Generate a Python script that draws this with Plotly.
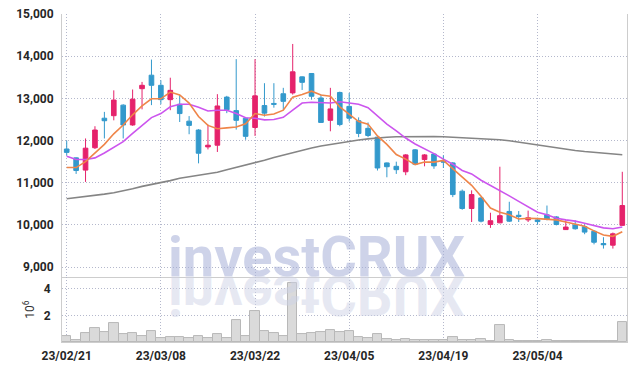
import plotly.graph_objects as go

dates = ["23/02/21", "23/02/22", "23/02/23", "23/02/24", "23/02/27", "23/02/28", "23/03/02", "23/03/03", "23/03/06", "23/03/07",
         "23/03/08", "23/03/09", "23/03/10", "23/03/13", "23/03/14", "23/03/15", "23/03/16", "23/03/17", "23/03/20", "23/03/21",
         "23/03/22", "23/03/23", "23/03/24", "23/03/27", "23/03/28", "23/03/29", "23/03/30", "23/03/31", "23/04/03", "23/04/04",
         "23/04/05", "23/04/06", "23/04/07", "23/04/10", "23/04/11", "23/04/12", "23/04/13", "23/04/14", "23/04/17", "23/04/18",
         "23/04/19", "23/04/20", "23/04/21", "23/04/24", "23/04/25", "23/04/26", "23/04/27", "23/04/28", "23/05/02", "23/05/03",
         "23/05/04", "23/05/08", "23/05/09", "23/05/10", "23/05/11", "23/05/12", "23/05/15", "23/05/16", "23/05/17", "23/05/18"]

opens = [11800, 11590, 11300, 11830, 12530, 12590, 12840, 12370, 13230, 13550,
         13310, 12970, 12860, 12460, 12250, 11850, 11890, 13030, 12710, 12530,
         12310, 12830, 12880, 13110, 13130, 13510, 13590, 13010, 12480, 13140,
         12810, 12470, 12290, 12080, 11470, 11390, 11260, 11780, 11550, 11680,
         11510, 11470, 10800, 10390, 10640, 10010, 10050, 10320, 10230, 10120,
         10120, 10240, 10190, 9890, 10000, 9960, 9850, 9560, 9520, 9990]
highs = [12000, 11600, 12050, 12340, 12680, 13190, 12860, 13210, 13390, 13920,
         13430, 13490, 13080, 12580, 12270, 12380, 13100, 13060, 13930, 12550,
         13930, 13360, 13360, 13250, 14290, 13520, 13600, 13090, 13250, 13160,
         13130, 12550, 12430, 12090, 11480, 11500, 11680, 11800, 11680, 11690,
         11650, 11490, 10840, 10820, 10660, 10290, 11380, 10550, 10330, 10340,
         10170, 10460, 10210, 10110, 10110, 10010, 9880, 9710, 9820, 11260]
lows = [11650, 11210, 11020, 11800, 12050, 12480, 12050, 12350, 12740, 12840,
        12860, 12720, 12440, 12150, 11460, 11790, 11730, 12650, 12260, 12020,
        12110, 12570, 12780, 12730, 13090, 13200, 12970, 12420, 12220, 12340,
        12450, 12080, 12080, 11290, 11130, 11210, 11180, 11430, 11390, 11330,
        11350, 10660, 10360, 10070, 10060, 9930, 10040, 10070, 10070, 10070,
        10010, 10110, 9990, 9880, 9890, 9780, 9540, 9440, 9440, 9980]
closes = [11720, 11290, 11820, 12250, 12470, 12960, 12370, 12980, 13310, 13310,
          12970, 13190, 12640, 12360, 11700, 11890, 12820, 12730, 12480, 12100,
          13060, 12650, 12860, 12930, 13630, 13380, 13050, 12430, 12750, 12380,
          12530, 12170, 12120, 11350, 11380, 11310, 11660, 11440, 11660, 11400,
          11490, 10720, 10390, 10720, 10090, 10100, 10220, 10090, 10200, 10170,
          10080, 10130, 10010, 9950, 9910, 9830, 9590, 9530, 9790, 10460]

ma5 = [11360, 11360, 11500, 11700, 11910, 12160, 12370, 12610, 12820, 12990,
       12990, 13150, 13080, 12890, 12570, 12360, 12280, 12300, 12320, 12400,
       12640, 12600, 12630, 12720, 13030, 13090, 13170, 13080, 13050, 12800,
       12630, 12450, 12390, 12110, 11910, 11670, 11560, 11430, 11490, 11490,
       11530, 11340, 11130, 10940, 10680, 10400, 10300, 10240, 10140, 10160,
       10150, 10130, 10120, 10070, 10020, 9970, 9860, 9760, 9730, 9840]
ma20 = [11630, 11550, 11550, 11590, 11705, 11830, 11975, 12170, 12365, 12545,
        12640, 12800, 12860, 12860, 12790, 12700, 12720, 12720, 12640, 12540,
        12530, 12490, 12500, 12550, 12720, 12890, 12910, 12900, 12890, 12920,
        12890, 12860, 12780, 12590, 12390, 12230, 12060, 11920, 11810, 11690,
        11560, 11440, 11290, 11210, 11060, 10940, 10820, 10690, 10560, 10430,
        10300, 10240, 10160, 10120, 10090, 10040, 9980, 9930, 9910, 9950]
ma120 = [10620, 10645, 10670, 10700, 10730, 10765, 10805, 10860, 10915, 10955,
         10995, 11050, 11105, 11140, 11165, 11200, 11250, 11310, 11365, 11420,
         11470, 11535, 11600, 11660, 11715, 11770, 11825, 11870, 11910, 11950,
         11985, 12015, 12040, 12065, 12080, 12090, 12095, 12098, 12098, 12095,
         12090, 12080, 12070, 12055, 12045, 12035, 12020, 11995, 11960, 11930,
         11900, 11865, 11830, 11795, 11765, 11740, 11720, 11700, 11680, 11665]

volume_m = [0.47, 0.15, 0.70, 1.05, 0.78, 1.45, 0.62, 0.70, 0.47, 0.85,
            0.27, 0.37, 0.37, 0.30, 0.47, 0.30, 0.62, 0.30, 1.67, 0.47,
            2.35, 0.85, 0.70, 0.47, 4.42, 0.62, 0.68, 0.78, 0.90, 0.78,
            0.85, 0.37, 0.30, 0.62, 0.22, 0.15, 0.22, 0.15, 0.15, 0.15,
            0.15, 0.37, 0.15, 0.15, 0.22, 0.10, 1.27, 0.15, 0.07, 0.07,
            0.07, 0.15, 0.07, 0.07, 0.07, 0.07, 0.07, 0.07, 0.07, 1.50]

tick_dates = ["23/02/21", "23/03/08", "23/03/22", "23/04/05", "23/04/19", "23/05/04"]
price_ticks = [9000, 10000, 11000, 12000, 13000, 14000, 15000]
volume_ticks = [2, 4]

UP = "#e5226b"
DOWN = "#3399cc"
GRID = "#b4b8cc"
GRIDDASH = "1px,2px"
AXLINE = "#cdcdcd"
TICKFONT = dict(size=12, weight="bold", color="#262626")

fig = go.Figure()
fig.add_trace(go.Candlestick(
    x=dates, open=opens, high=highs, low=lows, close=closes,
    increasing=dict(line=dict(color=UP, width=1), fillcolor=UP),
    decreasing=dict(line=dict(color=DOWN, width=1), fillcolor=DOWN),
    whiskerwidth=0, hoverinfo="skip", xaxis="x", yaxis="y"))
for vals, col in [(ma120, "#858585"), (ma20, "#cc55ee"), (ma5, "#ef8549")]:
    fig.add_trace(go.Scatter(x=dates, y=vals, mode="lines",
                             line=dict(color=col, width=1.6),
                             hoverinfo="skip", xaxis="x", yaxis="y"))
fig.add_trace(go.Bar(x=dates, y=volume_m,
                     marker=dict(color="#dadada", line=dict(color="#b8b8b8", width=1)),
                     hoverinfo="skip", xaxis="x2", yaxis="y2"))

n = len(dates)
fig.update_layout(
    width=635, height=371,
    margin=dict(l=62, r=8, t=14, b=29),
    paper_bgcolor="white", plot_bgcolor="white",
    showlegend=False, bargap=0,
    font=dict(family="Roboto", size=12, color="#222222"),
    xaxis=dict(type="category", domain=[0, 1], anchor="y", range=[-0.5, n - 0.5],
               tickvals=tick_dates, showticklabels=False, ticks="",
               showgrid=True, gridcolor=GRID, griddash=GRIDDASH, gridwidth=1,
               rangeslider=dict(visible=False), showline=True, linecolor=AXLINE),
    yaxis=dict(domain=[0.198, 1], range=[8765, 15000], tickvals=price_ticks,
               tickformat=",d", ticks="", showgrid=True, gridcolor=GRID,
               griddash=GRIDDASH, gridwidth=1, showline=True, mirror=True,
               linecolor=AXLINE, zeroline=False, ticklabelstandoff=5,
               tickfont=TICKFONT),
    xaxis2=dict(type="category", domain=[0, 1], anchor="y2", range=[-0.5, n - 0.5],
                tickvals=tick_dates, ticktext=tick_dates, ticks="",
                showgrid=True, gridcolor=GRID, griddash=GRIDDASH, gridwidth=1,
                showline=True, linecolor=AXLINE, ticklabelstandoff=3,
                tickfont=TICKFONT),
    yaxis2=dict(domain=[0, 0.198], range=[0, 4.87], tickvals=volume_ticks,
                ticks="", showgrid=True, gridcolor=GRID, griddash=GRIDDASH,
                gridwidth=1, showline=True, mirror=True, linecolor=AXLINE,
                zeroline=False, ticklabelstandoff=8, tickfont=TICKFONT,
                title=dict(text="10<sup>6</sup>", standoff=6,
                           font=dict(size=12, color="#333333"))),
)

wm_font = dict(family="Roboto", size=56, weight="bold")
fig.add_annotation(text="investCRUX", xref="paper", yref="paper", x=0.45, y=0.152,
                   xanchor="center", yanchor="bottom", showarrow=False,
                   font=dict(color="rgba(165,175,215,0.55)", **wm_font))
fig.add_annotation(text="investCRUX", xref="paper", yref="paper", x=0.45, y=0.152,
                   xanchor="center", yanchor="bottom", showarrow=False,
                   font=dict(color="rgba(205,210,230,0.5)", **wm_font))

post = """
document.documentElement.style.margin = '0';
document.body.style.margin = '0';
document.body.style.padding = '0';
function flipWM(){
  var ts = document.querySelectorAll('.annotation-text');
  if(ts.length < 2){ return; }
  var t = ts[1];
  try {
    var b = t.getBBox();
    var yb = b.y + b.height * 0.79;
    t.setAttribute('transform', 'matrix(1 0 0 -1 0 ' + (2*yb) + ')');
  } catch(e) {}
}
flipWM(); setTimeout(flipWM, 50); setTimeout(flipWM, 300);
"""

fig.write_html("out.html", post_script=post, config={"displayModeBar": False})
